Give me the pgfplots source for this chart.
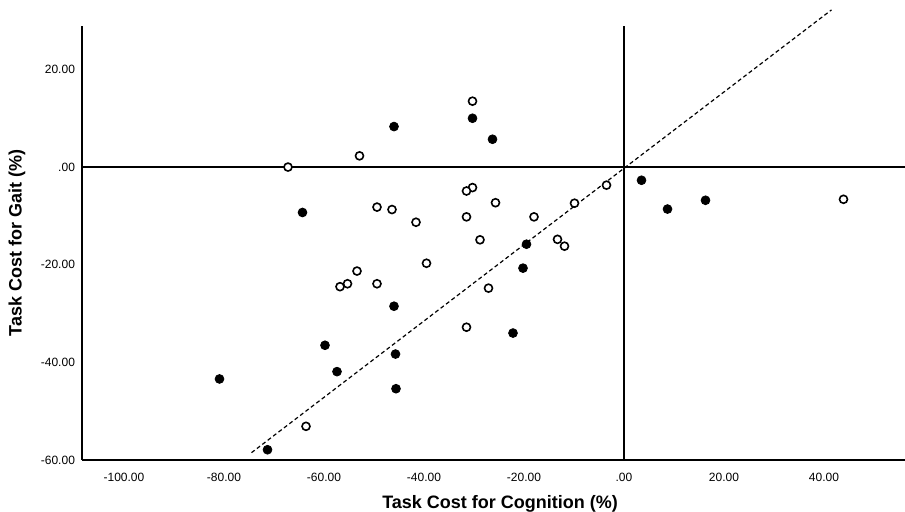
\documentclass[border=0pt]{standalone}
\usepackage{fontspec}
\setmainfont{Liberation Sans}
\usepackage{pgfplots}
\pgfplotsset{compat=1.18}

\begin{document}
\begin{tikzpicture}
\begin{axis}[
  scale only axis, width=411.5pt, height=217pt,
  xmin=-108.4, xmax=56.2, ymin=-60, ymax=28.9,
  axis lines*=left, axis line style={line width=0.8pt, -},
  clip=false,
  xtick={-100,-80,-60,-40,-20,0,20,40},
  xticklabels={-100.00,-80.00,-60.00,-40.00,-20.00,.00,20.00,40.00},
  ytick={-60,-40,-20,0,20},
  yticklabels={-60.00,-40.00,-20.00,.00,20.00},
  major tick length=0pt,
  tick label style={font=\fontsize{6}{7}\selectfont},
  xticklabel style={yshift=-3pt},
  xlabel={Task Cost for Cognition (\%)},
  ylabel={Task Cost for Gait (\%)},
  label style={font=\fontsize{9}{10}\selectfont\bfseries},
  xlabel style={at={(rel axis cs:0.508,-0.1)}, anchor=center},
  ylabel style={at={(rel axis cs:-0.079,0.5)}, anchor=center},
]
% reference lines
\addplot[black, line width=0.9pt] coordinates {(-108.4,0) (56.2,0)};
\addplot[black, line width=0.8pt] coordinates {(0,-60) (0,28.9)};
\addplot[black, line width=0.6pt, dash pattern=on 2pt off 1.4pt] coordinates {(-74.5,-58.5) (41.5,32.2)};

% open circles
\addplot[only marks, mark=*, mark size=2pt, mark options={fill=white, draw=black, line width=0.8pt}] coordinates {
(-30.3,13.5) (-52.9,2.3) (-67.2,0) (-30.3,-4.2) (-31.5,-4.9)
(-49.4,-8.2) (-46.4,-8.7) (-25.7,-7.3) (-41.6,-11.3) (-31.5,-10.2)
(-9.9,-7.4) (-18.0,-10.2) (-28.8,-14.9) (-13.3,-14.8) (-11.9,-16.2)
(-39.5,-19.7) (-53.4,-21.3) (-55.3,-23.9) (-56.8,-24.5) (-49.4,-23.9)
(-27.1,-24.8) (-31.5,-32.8) (-63.6,-53.1) (-3.5,-3.7) (43.9,-6.6)
};

% filled circles
\addplot[only marks, mark=*, mark size=2.2pt, mark options={fill=black, draw=black}] coordinates {
(-30.3,10.0) (-46.0,8.3) (-26.3,5.7) (-64.3,-9.3) (-19.5,-15.8)
(-20.2,-20.7) (-46.0,-28.5) (-22.2,-34.0) (-59.8,-36.5) (-45.7,-38.3)
(-57.4,-41.9) (-80.9,-43.4) (-45.6,-45.4) (-71.3,-57.9) (3.5,-2.7)
(8.7,-8.6) (16.3,-6.8)
};

\coordinate (bl) at (rel axis cs:0,0);
\coordinate (tr) at (rel axis cs:1,1);
\end{axis}
\pgfresetboundingbox
\path ([shift={(-41pt,-26pt)}]bl) rectangle ([shift={(0pt,13pt)}]tr);
\end{tikzpicture}
\end{document}
